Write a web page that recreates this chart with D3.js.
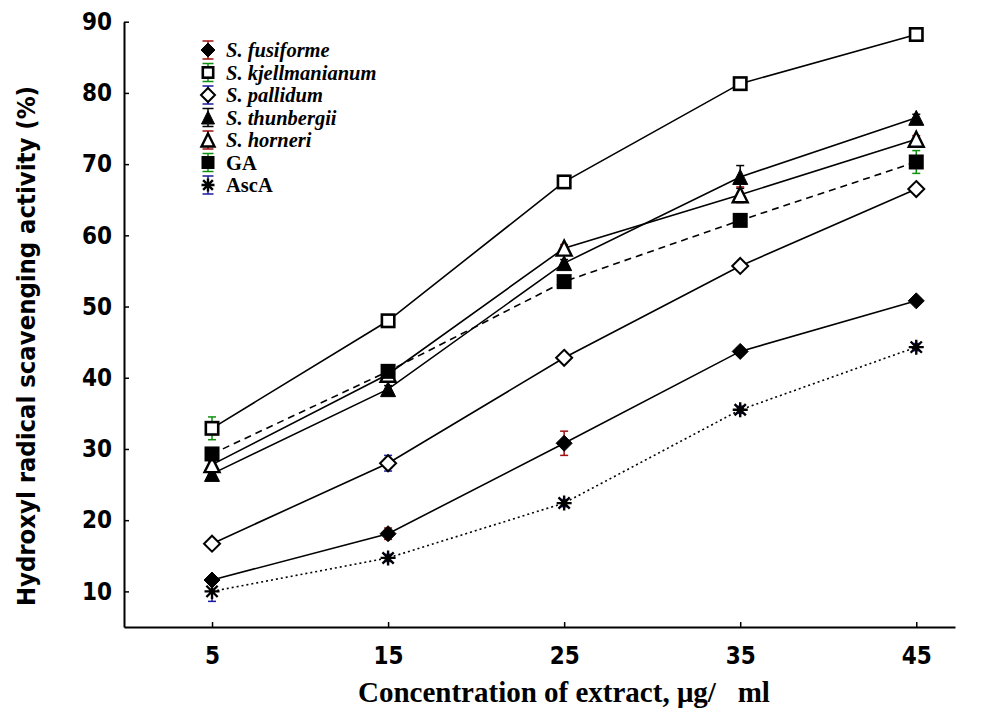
<!DOCTYPE html>
<html><head><meta charset="utf-8">
<script src="https://cdn.jsdelivr.net/npm/d3@7"></script>
<style>body{margin:0;background:#fff}svg{display:block}</style>
</head><body><svg id="c" width="985" height="709"></svg>
<script>
// ---- data ----
const concentrations = [5, 15, 25, 35, 45];
const seriesNames = ["S. fusiforme", "S. kjellmanianum", "S. pallidum", "S. thunbergii", "S. horneri", "GA", "AscA"];
const fusiforme     = [11.6, 18.1, 30.8, 43.7, 50.8];
const kjellmanianum = [32.9, 48.0, 67.5, 81.3, 88.2];
const pallidum      = [16.7, 28.0, 42.8, 55.7, 66.5];
const thunbergii    = [26.5, 38.4, 56.1, 68.2, 76.5];
const horneri       = [27.8, 40.5, 58.2, 65.7, 73.5];
const GA            = [29.3, 40.9, 53.5, 62.1, 70.3];
const AscA          = [10.0, 14.7, 22.4, 35.5, 44.3];
const errFusiforme  = [0.5, 0.8, 1.7, 0.5, 0.4];
const errKjell      = [1.6, 0.5, 0.5, 0.5, 0.5];
const errPallidum   = [0.5, 1.1, 0.4, 0.4, 0.4];
const errThunbergii = [0.4, 0.5, 0.5, 1.6, 0.5];
const errHorneri    = [0.4, 0.5, 0.5, 1.1, 0.5];
const errGA         = [0.8, 0.5, 0.5, 0.8, 1.6];
const errAscA       = [1.4, 0.5, 0.5, 0.5, 0.5];
const yTicks = [10, 20, 30, 40, 50, 60, 70, 80, 90];
const xTicks = [5, 15, 25, 35, 45];

const series = [
  {name: seriesNames[0], vals: fusiforme,     err: errFusiforme,  marker: "diamondFilled", dash: null,  errColor: "#a01010", italic: true},
  {name: seriesNames[1], vals: kjellmanianum, err: errKjell,      marker: "squareOpen",    dash: null,  errColor: "#109010", italic: true},
  {name: seriesNames[2], vals: pallidum,      err: errPallidum,   marker: "diamondOpen",   dash: null,  errColor: "#1a1aa0", italic: true},
  {name: seriesNames[3], vals: thunbergii,    err: errThunbergii, marker: "triFilled",     dash: null,  errColor: "#000000", italic: true},
  {name: seriesNames[4], vals: horneri,       err: errHorneri,    marker: "triOpen",       dash: null,  errColor: "#a01010", italic: true},
  {name: seriesNames[5], vals: GA,            err: errGA,         marker: "squareFilled",  dash: "7,5", errColor: "#109010", italic: false},
  {name: seriesNames[6], vals: AscA,          err: errAscA,       marker: "star",          dash: "2,3", errColor: "#1a1aa0", italic: false}
];

const svg = d3.select("#c");
const x = d3.scaleLinear().domain([0, 47.2]).range([124, 955]);
const y = d3.scaleLinear().domain([5, 90]).range([627, 21.7]);

const tickFont = "'DejaVu Sans Condensed','DejaVu Sans',sans-serif";
const serif = "'Liberation Serif','Times New Roman',serif";

// axes
const yAxis = svg.append("g").attr("transform", "translate(124,0)")
  .call(d3.axisLeft(y).tickValues(yTicks).tickSize(-5).tickSizeOuter(0).tickPadding(12));
const xAxis = svg.append("g").attr("transform", "translate(0,627)")
  .call(d3.axisBottom(x).tickValues(xTicks).tickSize(-5).tickSizeOuter(0).tickPadding(20));
[yAxis, xAxis].forEach(g => {
  g.select(".domain").attr("stroke", "#000").attr("stroke-width", 2);
  g.selectAll(".tick line").attr("stroke", "#000").attr("stroke-width", 1.5);
  g.selectAll(".tick text").attr("fill", "#000")
    .style("font-family", tickFont).style("font-weight", "bold").style("font-size", "24px");
});

// axis titles
svg.append("text")
  .attr("transform", "translate(35,346) rotate(-90)")
  .attr("text-anchor", "middle")
  .attr("textLength", 520).attr("lengthAdjust", "spacingAndGlyphs")
  .style("font-family", tickFont).style("font-weight", "bold").style("font-size", "24px")
  .text("Hydroxyl radical scavenging activity (%)");

svg.append("text")
  .attr("x", 358).attr("y", 702)
  .style("white-space", "pre")
  .style("font-family", serif).style("font-weight", "bold").style("font-size", "29px")
  .text("Concentration of extract, \u03bcg/   ml");

// marker drawing
function drawMarker(g, type, cx, cy, s) {
  const h = s / 2;
  if (type === "squareOpen" || type === "squareFilled") {
    const sw = 2.6;
    g.append("rect").attr("x", cx - h + sw / 2).attr("y", cy - h + sw / 2)
      .attr("width", s - sw).attr("height", s - sw)
      .attr("fill", type === "squareFilled" ? "#000" : "#fff")
      .attr("stroke", "#000").attr("stroke-width", sw);
  } else if (type === "diamondOpen" || type === "diamondFilled") {
    const r = h + 0.5;
    g.append("path").attr("d", `M${cx},${cy - r}L${cx + r},${cy}L${cx},${cy + r}L${cx - r},${cy}Z`)
      .attr("fill", type === "diamondFilled" ? "#000" : "#fff")
      .attr("stroke", "#000").attr("stroke-width", type === "diamondFilled" ? 1 : 2);
  } else if (type === "triOpen" || type === "triFilled") {
    g.append("path").attr("d", `M${cx},${cy - h}L${cx + h},${cy + h}L${cx - h},${cy + h}Z`)
      .attr("fill", type === "triFilled" ? "#000" : "#fff")
      .attr("stroke", "#000").attr("stroke-width", type === "triFilled" ? 1 : 2.4)
      .attr("stroke-linejoin", "miter");
  } else if (type === "star") {
    const r = h, d = h * 0.75;
    g.append("path").attr("d",
      `M${cx - r},${cy}L${cx + r},${cy}M${cx},${cy - r}L${cx},${cy + r}` +
      `M${cx - d},${cy - d}L${cx + d},${cy + d}M${cx - d},${cy + d}L${cx + d},${cy - d}`)
      .attr("fill", "none").attr("stroke", "#000").attr("stroke-width", 2.4);
  }
}

// lines
const line = d3.line().x((d, i) => x(concentrations[i])).y(d => y(d));
series.forEach(s => {
  svg.append("path").datum(s.vals).attr("d", line)
    .attr("fill", "none").attr("stroke", "#000").attr("stroke-width", 1.6)
    .attr("stroke-dasharray", s.dash);
});

// error bars
series.forEach(s => {
  const g = svg.append("g").attr("stroke", s.errColor).attr("stroke-width", 1.5);
  s.vals.forEach((v, i) => {
    const cx = x(concentrations[i]);
    const y1 = y(v + s.err[i]), y2 = y(v - s.err[i]);
    g.append("line").attr("x1", cx).attr("x2", cx).attr("y1", y1).attr("y2", y2);
    g.append("line").attr("x1", cx - 4).attr("x2", cx + 4).attr("y1", y1).attr("y2", y1);
    g.append("line").attr("x1", cx - 4).attr("x2", cx + 4).attr("y1", y2).attr("y2", y2);
  });
});

// markers
series.forEach(s => {
  const g = svg.append("g");
  s.vals.forEach((v, i) => drawMarker(g, s.marker, x(concentrations[i]), y(v), 15));
});

// legend
const leg = svg.append("g");
series.forEach((s, i) => {
  const cy = 50 + i * 22.5, cx = 208;
  const g = leg.append("g");
  g.append("line").attr("x1", cx).attr("x2", cx).attr("y1", cy - 9).attr("y2", cy + 9)
    .attr("stroke", s.errColor).attr("stroke-width", 1.5);
  [cy - 9, cy + 9].forEach(yy => g.append("line").attr("x1", cx - 5.5).attr("x2", cx + 5.5)
    .attr("y1", yy).attr("y2", yy).attr("stroke", s.errColor).attr("stroke-width", 1.5));
  drawMarker(g, s.marker, cx, cy, 13);
  leg.append("text").attr("x", 226).attr("y", cy + 7)
    .style("font-family", serif)
    .style("font-weight", "bold").style("font-style", s.italic ? "italic" : "normal")
    .style("font-size", "20.5px").text(s.name);
});
</script></body></html>
